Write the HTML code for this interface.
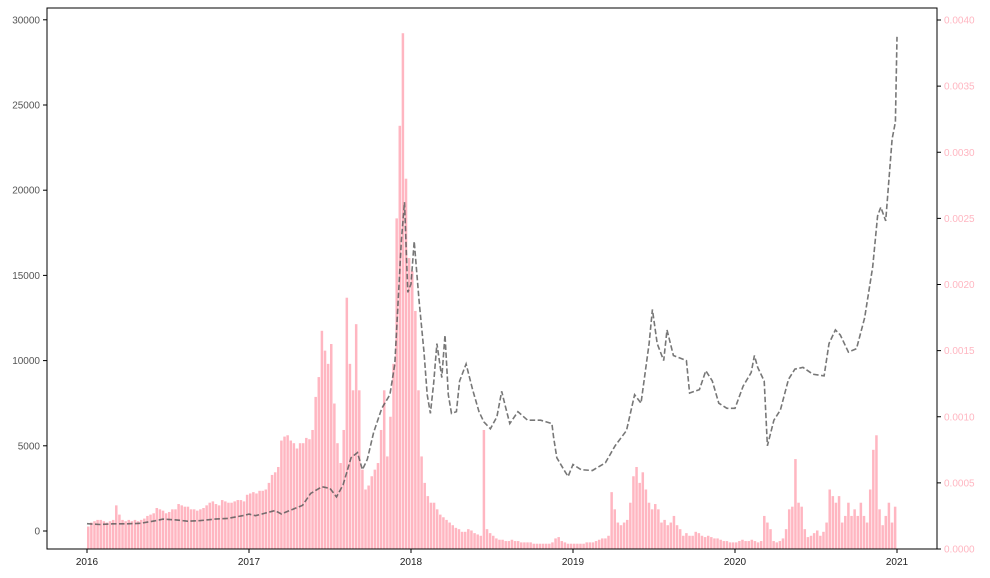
<!DOCTYPE html>
<html><head><meta charset="utf-8"><style>
body{margin:0;background:#fff;}
svg{display:block;font-family:"Liberation Sans",sans-serif;}
</style></head><body>
<svg id="chart" width="990" height="578"></svg>
<script>
const priceDates=[2016.00,2016.08,2016.16,2016.25,2016.33,2016.42,2016.47,2016.55,2016.62,2016.70,2016.79,2016.87,2016.96,
2017.00,2017.04,2017.10,2017.16,2017.20,2017.25,2017.33,2017.38,2017.45,2017.50,2017.54,2017.58,2017.63,2017.67,2017.70,2017.73,2017.77,2017.82,2017.87,2017.90,2017.94,2017.96,2017.98,
2018.00,2018.02,2018.05,2018.08,2018.10,2018.12,2018.14,2018.16,2018.19,2018.21,2018.23,2018.25,2018.28,2018.30,2018.34,2018.38,2018.42,2018.45,2018.49,2018.53,2018.56,2018.58,2018.61,2018.66,2018.72,2018.80,2018.87,2018.88,2018.90,2018.95,2018.97,
2019.00,2019.05,2019.12,2019.20,2019.26,2019.33,2019.38,2019.42,2019.47,2019.49,2019.52,2019.56,2019.58,2019.62,2019.70,2019.72,2019.78,2019.82,2019.86,2019.90,2019.95,
2020.00,2020.05,2020.10,2020.12,2020.14,2020.18,2020.20,2020.24,2020.28,2020.33,2020.37,2020.42,2020.48,2020.55,2020.58,2020.62,2020.65,2020.70,2020.75,2020.80,2020.85,2020.88,2020.90,2020.93,2020.97,2020.99,2021.00];
const prices=[430,380,420,420,450,600,700,650,575,610,700,740,900,
990,900,1050,1200,1000,1200,1500,2200,2600,2500,2000,2700,4300,4600,3600,4200,5800,7200,8000,9800,17000,19300,14000,
14500,17000,13500,10500,8000,6900,8700,11000,9000,11500,8000,6900,7000,8800,9800,8300,7000,6400,6000,6700,8200,7400,6300,7000,6500,6500,6300,5500,4300,3500,3200,
3900,3600,3550,4000,5000,5900,8000,7500,11000,13000,11000,10000,11800,10300,10000,8100,8300,9400,8800,7500,7200,
7200,8500,9300,10300,9600,8800,5000,6500,7100,8900,9500,9600,9200,9100,11000,11800,11500,10500,10700,12500,15500,18500,19000,18200,23000,24000,29000];
// weekly bar values, units of 1e-4
const bars2016=[1.7,2.0,2.1,2.2,2.2,2.1,2.0,2.1,2.2,3.3,2.6,2.2,2.1,2.2,2.1,2.2,2.1,2.2,2.3,2.5,2.6,2.7,3.1,3.0,2.9,2.7,2.8,3.0,3.0,3.4,3.3,3.2,3.2,3.0,3.0,2.9,3.0,3.1,3.3,3.5,3.6,3.4,3.3,3.7,3.6,3.5,3.5,3.6,3.7,3.7,3.6,4.1];
const bars2017=[4.2,4.3,4.2,4.4,4.4,4.5,5.0,5.6,5.8,6.2,8.2,8.5,8.6,8.2,8.0,7.6,8.0,8.0,8.4,8.3,9.0,11.5,13,16.5,15,14,15.5,11,8,6.5,9,19,14,12,17,12,6,4.5,4.8,5.5,6.0,6.5,9,12,7,10,14,25,32,39,28,22];
const bars2018=[21,18,12,7,5,4,3.5,3.5,3,2.6,2.4,2.2,2,1.8,1.6,1.5,1.3,1.3,1.5,1.4,1.2,1.1,1.0,9,1.5,1.2,1.0,0.8,0.7,0.7,0.6,0.6,0.7,0.6,0.6,0.5,0.5,0.5,0.5,0.4,0.4,0.4,0.4,0.4,0.4,0.5,0.8,0.9,0.6,0.5,0.4,0.4];
const bars2019=[0.4,0.4,0.4,0.4,0.5,0.5,0.5,0.6,0.7,0.8,0.8,1.0,4.3,3.0,2.0,1.8,2.0,2.2,3.5,5.5,6.2,5.0,5.8,4.5,3.5,3.0,3.4,3.0,2.0,2.2,1.8,2.0,2.5,1.8,1.5,1.0,1.2,1.0,1.0,1.3,1.2,1.0,0.9,1.0,0.9,0.8,0.8,0.7,0.6,0.6,0.5,0.5];
const bars2020=[0.5,0.6,0.7,0.6,0.6,0.7,0.6,0.5,0.6,2.5,2.0,1.5,0.6,0.5,0.6,0.8,1.5,3.0,3.2,6.8,3.5,3.2,1.5,0.9,1.0,1.2,1.4,1.0,1.3,2.0,4.5,4.0,3.5,4.0,2.0,2.5,3.5,2.5,3.0,2.5,3.5,2.5,2.0,4.5,7.5,8.6,3.0,1.8,2.5,3.5,2.0,3.2];
const leftTicks=[0,5000,10000,15000,20000,25000,30000];
const rightTicks=["0.0000","0.0005","0.0010","0.0015","0.0020","0.0025","0.0030","0.0035","0.0040"];
const xTicks=[2016,2017,2018,2019,2020,2021];

const NS="http://www.w3.org/2000/svg";
const svg=document.getElementById('chart');
function mk(t,a,p){const e=document.createElementNS(NS,t);for(const k in a)e.setAttribute(k,a[k]);(p||svg).appendChild(e);return e;}
const L=47,R=937,T=8,B=549;
const xs=t=>87+(t-2016)*162;
const yl=v=>531-v*0.01704;
const yr=v=>549-v*1e-4*132.25/0.001;

const gBars=mk('g',{});


const allBars=[bars2016,bars2017,bars2018,bars2019,bars2020];
allBars.forEach((arr,yi)=>{
  arr.forEach((v,i)=>{
    const t=2016+yi+i/52;
    const x=xs(t);
    const r=mk('rect',{x:x,y:yr(v),width:2.5,height:549-yr(v),fill:'#ffb6c1'},gBars);
    
    
  });
});

let d='';
priceDates.forEach((t,i)=>{d+=(i?'L':'M')+xs(t).toFixed(1)+' '+yl(prices[i]).toFixed(1)+' ';});
const line=mk('path',{d:d,fill:'none',stroke:'#555','stroke-opacity':0.8,'stroke-width':1.6,'stroke-dasharray':'5.5,2.5'});



const frame=mk('rect',{x:L,y:T,width:R-L,height:B-T,fill:'none',stroke:'#000','stroke-width':1});



leftTicks.forEach(v=>{
  const y=yl(v);
  mk('line',{x1:L-4,x2:L,y1:y,y2:y,stroke:'#000'});
  const tx=mk('text',{x:L-7,y:y+3.5,'text-anchor':'end','font-size':10,fill:'#555'});
  tx.textContent=v;
  
  
});
rightTicks.forEach((s,i)=>{
  const y=549-i*66.125;
  mk('line',{x1:R,x2:R+4,y1:y,y2:y,stroke:'#000'});
  const tx=mk('text',{x:R+7,y:y+3.5,'font-size':10,fill:'#ffb6c1'});
  tx.textContent=s;
  
  
});
xTicks.forEach(v=>{
  const x=xs(v);
  mk('line',{x1:x,x2:x,y1:B,y2:B+4,stroke:'#000'});
  const tx=mk('text',{x:x,y:B+16,'text-anchor':'middle','font-size':10,fill:'#222'});
  tx.textContent=v;
  
  
});
</script>
</body></html>
